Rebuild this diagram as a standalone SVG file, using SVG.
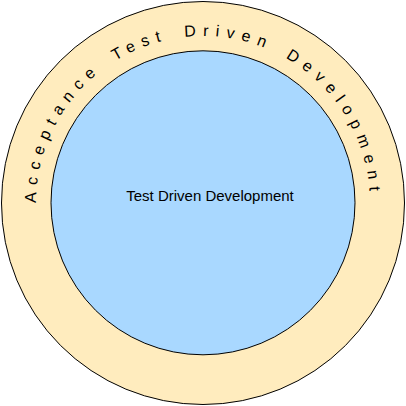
<svg xmlns="http://www.w3.org/2000/svg" xmlns:xlink="http://www.w3.org/1999/xlink" width="406" height="406" viewBox="0 0 406 406">
<style>
.ring{stroke:#000;stroke-width:1}
.lbl{font-family:"Liberation Sans",Arial,sans-serif;fill:#000}
</style>
<defs>
<path id="arc" d="M 36 203 A 167 167 0 1 1 370 203 A 167 167 0 1 1 36 203"/>
</defs>
<rect width="406" height="406" fill="#fff"/>
<g id="atdd">
<circle class="ring" cx="203" cy="203" r="201.5" fill="#FFECBE"/>
<text class="lbl" font-size="16" letter-spacing="7" word-spacing="5"><textPath xlink:href="#arc" href="#arc" startOffset="0">Acceptance Test Driven Development</textPath></text>
</g>
<g id="tdd">
<circle class="ring" cx="203" cy="202.8" r="152" fill="#A9D8FF"/>
<text class="lbl" x="210" y="201" font-size="15" text-anchor="middle">Test Driven Development</text>
</g>
<g id="connectors"/>
</svg>
